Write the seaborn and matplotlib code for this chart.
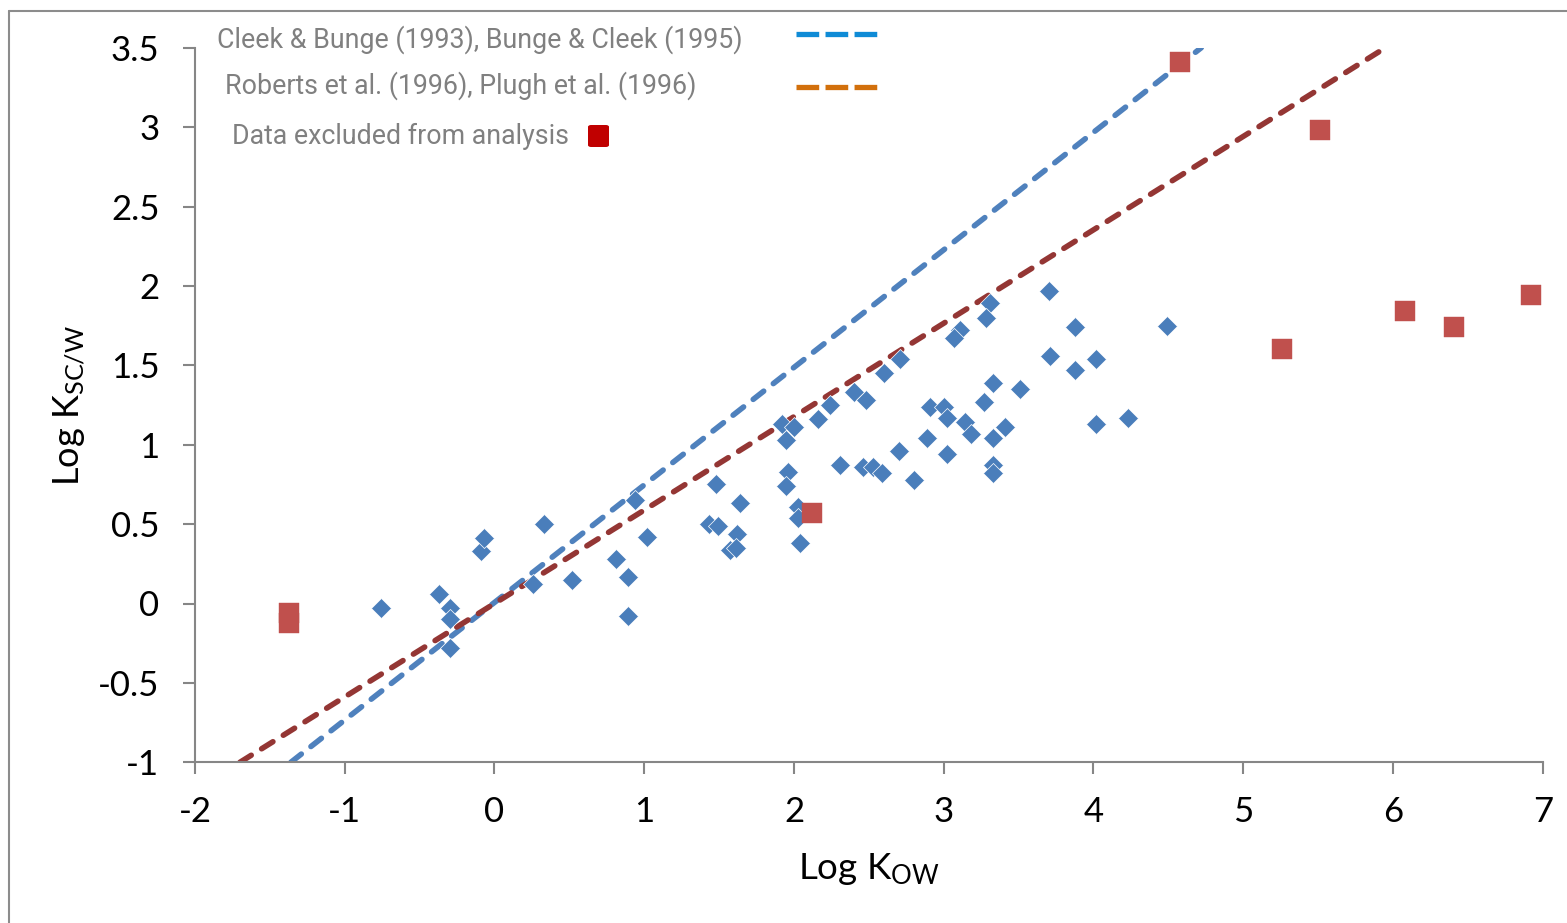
import numpy as np
import pandas as pd
import matplotlib
matplotlib.use("Agg")
import matplotlib.pyplot as plt
from matplotlib.lines import Line2D
from matplotlib.patches import FancyBboxPatch
import seaborn as sns

# ---------------- data ----------------
blue_x = [-0.76, -0.37, -0.30, -0.30, -0.30, -0.09, -0.07, 0.33, 0.26, 0.52,
          0.81, 0.89, 0.89, 0.94, 1.02, 1.48, 1.64, 1.43, 1.49, 1.62,
          1.57, 1.61, 1.92, 2.00, 1.95, 1.96, 1.95, 2.03, 2.03, 2.04,
          2.16, 2.24, 2.40, 2.48, 2.31, 2.46, 2.53, 2.59, 2.70, 3.70,
          3.31, 3.28, 3.11, 3.07, 2.71, 2.60, 3.71, 3.33, 3.51, 3.27,
          2.91, 3.00, 3.02, 3.14, 3.18, 3.41, 3.33, 2.89, 3.02, 2.80,
          3.33, 3.33, 3.88, 4.49, 4.02, 3.88, 4.02, 4.23]
blue_y = [-0.03, 0.06, -0.03, -0.10, -0.28, 0.33, 0.41, 0.50, 0.12, 0.15,
          0.28, 0.17, -0.08, 0.65, 0.42, 0.75, 0.63, 0.50, 0.49, 0.44,
          0.34, 0.35, 1.13, 1.11, 1.03, 0.83, 0.74, 0.61, 0.54, 0.38,
          1.16, 1.25, 1.33, 1.28, 0.87, 0.86, 0.86, 0.82, 0.96, 1.97,
          1.89, 1.80, 1.72, 1.67, 1.54, 1.45, 1.56, 1.39, 1.35, 1.27,
          1.24, 1.24, 1.17, 1.14, 1.07, 1.11, 1.04, 1.04, 0.94, 0.78,
          0.87, 0.82, 1.74, 1.75, 1.54, 1.47, 1.13, 1.17]

red_x = [-1.37, -1.37, 2.12, 4.58, 5.51, 5.26, 6.08, 6.41, 6.92]
red_y = [-0.06, -0.12, 0.57, 3.41, 2.98, 1.60, 1.84, 1.74, 1.94]

# model lines (end points)
cleek_x = [-1.36, 4.72]
cleek_y = [-1.0, 3.5]
roberts_x = [-1.70, 5.95]
roberts_y = [-1.0, 3.5]

x_ticks = [-2, -1, 0, 1, 2, 3, 4, 5, 6, 7]
y_ticks = [-1, -0.5, 0, 0.5, 1, 1.5, 2, 2.5, 3, 3.5]
y_tick_labels = ["-1", "-0.5", "0", "0.5", "1", "1.5", "2", "2.5", "3", "3.5"]

legend_labels = ["Cleek & Bunge (1993), Bunge & Cleek (1995)",
                 "Roberts et al. (1996), Plugh et al. (1996)",
                 "Data excluded from analysis"]

# ---------------- style ----------------
sns.set_theme(style="white")
plt.rcParams["font.family"] = ["Lato", "DejaVu Sans"]
plt.rcParams["axes.unicode_minus"] = False
plt.rcParams["mathtext.default"] = "regular"

W, H = 1567, 923
fig = plt.figure(figsize=(W / 100, H / 100), dpi=100)
fig.patch.set_facecolor("white")

def fx(px):
    return px / W

def fy(py):
    return 1 - py / H

ax_left, ax_right, ax_top, ax_bottom = 195, 1542.7, 47.7, 762.3
ax = fig.add_axes([fx(ax_left), fy(ax_bottom), (ax_right - ax_left) / W, (ax_bottom - ax_top) / H])
ax.set_facecolor("white")

# model lines
ax.plot(cleek_x, cleek_y, color="#4F81BD", linewidth=4.0,
        linestyle=(0, (2.4, 2.2)), dash_capstyle="round", zorder=2)
ax.plot(roberts_x, roberts_y, color="#943634", linewidth=4.0,
        linestyle=(0, (2.4, 2.2)), dash_capstyle="round", zorder=2)

# points
sns.scatterplot(x=blue_x, y=blue_y, ax=ax, marker="D", s=104, color="#4A7EBB",
                edgecolor="white", linewidth=0.5, zorder=3)
sns.scatterplot(x=red_x, y=red_y, ax=ax, marker="s", s=205, color="#C0504D",
                edgecolor="#C0504D", linewidth=0.3, zorder=4)

ax.set_xlim(-2, 7)
ax.set_ylim(-1, 3.5)
ax.set_xticks(x_ticks)
ax.set_xticklabels([str(t) for t in x_ticks])
ax.set_yticks(y_ticks)
ax.set_yticklabels(y_tick_labels)

for s in ["top", "right"]:
    ax.spines[s].set_visible(False)
for s in ["left", "bottom"]:
    ax.spines[s].set_color("#868686")
    ax.spines[s].set_linewidth(1.5)

ax.tick_params(axis="both", direction="out", length=8.6, width=1.5, color="#868686",
               labelsize=25, labelcolor="black")
ax.tick_params(axis="x", pad=16)
ax.tick_params(axis="y", pad=17)
ax.tick_params(bottom=True, left=True)

ax.set_xlabel("Log K$_{OW}$", fontsize=26.5, labelpad=16, color="black")
ax.set_ylabel("Log K$_{SC/W}$", fontsize=26, labelpad=8, color="black")

# outer frame (left and top edges visible)
fig.add_artist(Line2D([fx(9), fx(9)], [0, fy(11)], transform=fig.transFigure,
                      color="#8c8c8c", lw=1.5))
fig.add_artist(Line2D([fx(9), 1], [fy(11), fy(11)], transform=fig.transFigure,
                      color="#8c8c8c", lw=1.5))

# hand-made legend
txt_kw = dict(transform=fig.transFigure, fontsize=19.3, color="#808080",
              va="center", ha="left", family=["Roboto", "DejaVu Sans"])
fig.text(fx(217), fy(40), legend_labels[0], **txt_kw)
fig.text(fx(225), fy(86), legend_labels[1], **txt_kw)
fig.text(fx(232), fy(136), legend_labels[2], **txt_kw)

fig.add_artist(Line2D([fx(796), fx(880)], [fy(34), fy(34)], transform=fig.transFigure,
                      color="#0F8BD6", lw=3.8, linestyle=(0, (4.3, 1.2)),
                      solid_capstyle="butt", dash_capstyle="butt"))
fig.add_artist(Line2D([fx(796), fx(880)], [fy(87), fy(87)], transform=fig.transFigure,
                      color="#D2700C", lw=3.8, linestyle=(0, (4.3, 1.2)),
                      solid_capstyle="butt", dash_capstyle="butt"))
fig.add_artist(FancyBboxPatch((fx(588), fy(147)), fx(21), 22 / H,
                              boxstyle="round,pad=0,rounding_size=0.002",
                              transform=fig.transFigure, facecolor="#C00000",
                              edgecolor="none"))

fig.savefig("out.png", dpi=100, facecolor="white")
